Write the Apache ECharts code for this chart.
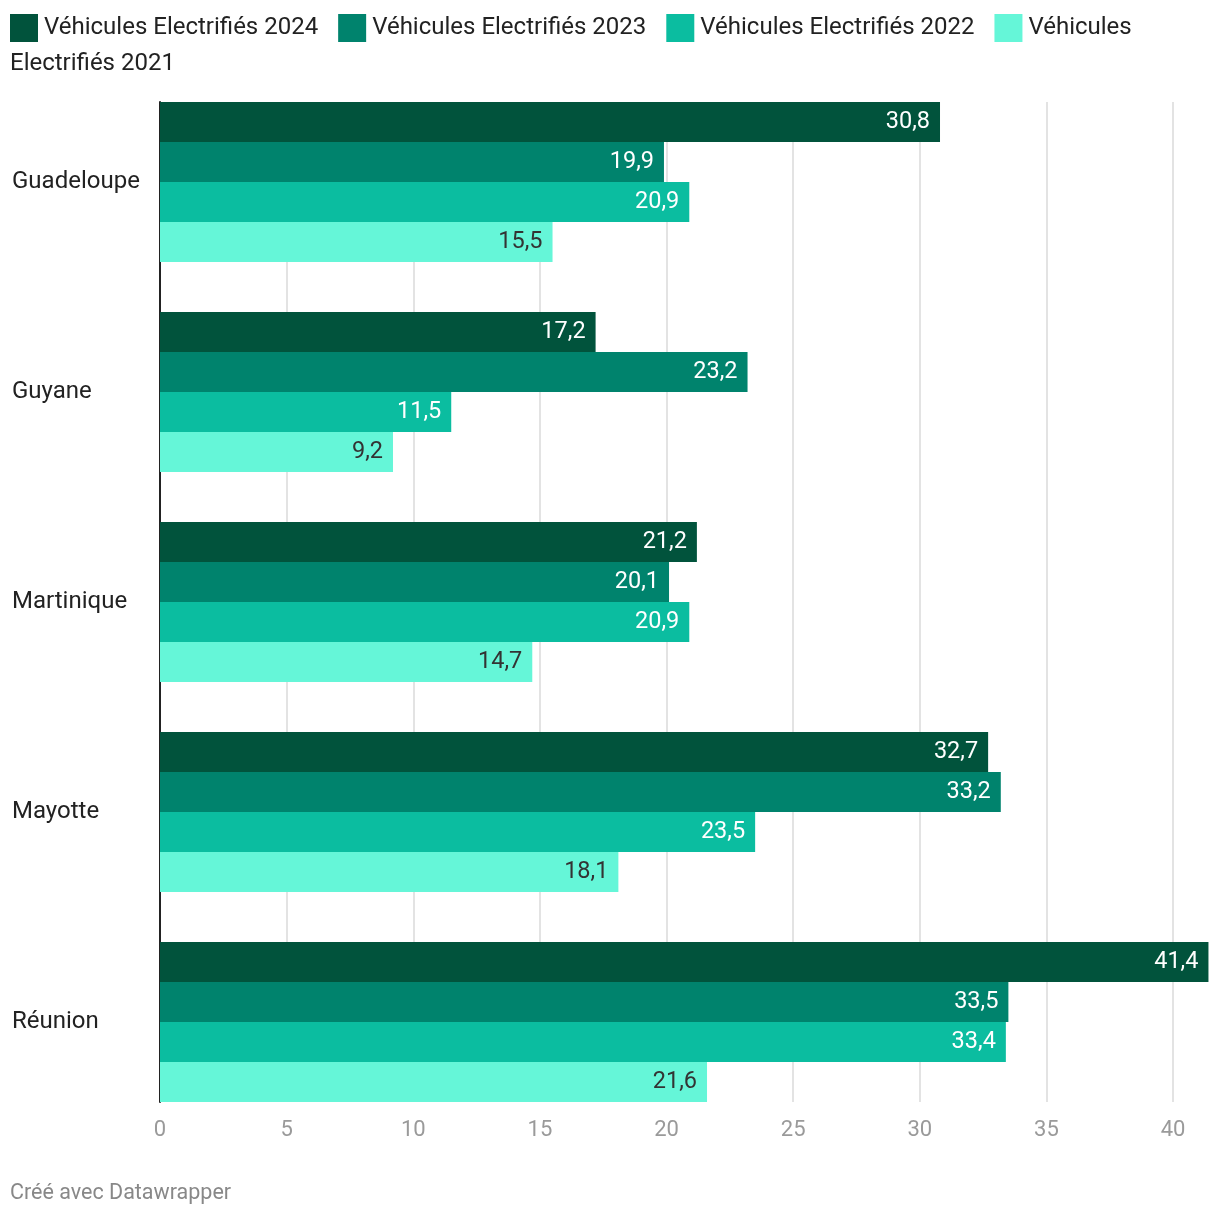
<!DOCTYPE html>
<html>
<head>
<meta charset="utf-8">
<script src="https://cdn.jsdelivr.net/npm/echarts@6/dist/echarts.min.js"></script>
<style>
html,body{margin:0;padding:0;background:#fff;}
#chart{width:1220px;height:1216px;}
</style>
</head>
<body>
<div id="chart"></div>
<script>
const categories = ['Guadeloupe', 'Guyane', 'Martinique', 'Mayotte', 'Réunion'];
const seriesNames = ['Véhicules Electrifiés 2024', 'Véhicules Electrifiés 2023', 'Véhicules Electrifiés 2022', 'Véhicules Electrifiés 2021'];
const values2024 = [30.8, 17.2, 21.2, 32.7, 41.4];
const values2023 = [19.9, 23.2, 20.1, 33.2, 33.5];
const values2022 = [20.9, 11.5, 20.9, 23.5, 33.4];
const values2021 = [15.5, 9.2, 14.7, 18.1, 21.6];
const xTicks = [0, 5, 10, 15, 20, 25, 30, 35, 40];

const colors = ['#01533c', '#00836d', '#0bbda0', '#65f6d8'];
const labelColors = ['#ffffff', '#ffffff', '#ffffff', '#333333'];
const allValues = [values2024, values2023, values2022, values2021];
const FONT = 'Roboto';
const xMax = 41.4;

const chart = echarts.init(document.getElementById('chart'));
const option = {
  animation: false,
  color: colors,
  textStyle: { fontFamily: FONT },
  legend: {
    left: 10, top: 14, padding: 0,
    itemWidth: 28, itemHeight: 28, itemGap: 20,
    icon: 'rect',
    textStyle: { fontSize: 24, color: '#222', fontFamily: FONT, padding: [0, 0, 0, 1] },
    data: seriesNames,
    formatter: function (n) { return n === seriesNames[3] ? 'Véhicules' : n; }
  },
  graphic: [
    { type: 'text', left: 10, top: 52, style: { text: 'Electrifiés 2021', fontSize: 24, fontFamily: FONT, fill: '#222' } },
    { type: 'text', left: 10, top: 1183, style: { text: 'Créé avec Datawrapper', fontSize: 21.5, fontFamily: FONT, fill: '#888' } }
  ],
  grid: [
    { left: 160, right: 1220 - 160 - (1173 - 160) * xMax / 40, top: 77, height: 1050 },
    { left: 160, right: 1220 - 160 - (1173 - 160) * xMax / 40, top: 102, height: 1000 }
  ],
  xAxis: [
    { type: 'value', gridIndex: 0, min: 0, max: xMax, show: false },
    {
      type: 'value', gridIndex: 1, min: 0, max: xMax, interval: 5,
      axisLine: { show: false }, axisTick: { show: false },
      axisLabel: { fontSize: 22, color: '#9a9a9a', fontFamily: FONT, margin: 17, showMaxLabel: false,
        formatter: function (v) { return xTicks.indexOf(v) >= 0 ? String(v) : ''; } },
      splitLine: { show: true, showMaxLine: false, lineStyle: { color: '#e3e3e3', width: 2 } }
    }
  ],
  yAxis: [
    {
      type: 'category', gridIndex: 0, data: categories, inverse: true,
      axisLine: { show: false }, axisTick: { show: false },
      axisLabel: { align: 'left', margin: 148, fontSize: 24, color: '#222', fontFamily: FONT, padding: [5, 0, 0, 0] }
    },
    {
      type: 'category', gridIndex: 1, data: categories, inverse: true,
      axisLine: { show: true, lineStyle: { color: '#222', width: 2 } },
      axisTick: { show: false }, axisLabel: { show: false }, splitLine: { show: false }
    }
  ],
  series: seriesNames.map(function (name, i) {
    return {
      name: name, type: 'bar', xAxisIndex: 0, yAxisIndex: 0,
      data: allValues[i], barWidth: 40, barGap: '0%', z: 3,
      itemStyle: { color: colors[i] },
      label: {
        show: true, position: 'insideRight', distance: 10,
        fontSize: 23.5, fontFamily: FONT, color: labelColors[i],
        formatter: function (p) { return p.value.toFixed(1).replace('.', ','); }
      }
    };
  })
};
chart.setOption(option);
</script>
</body>
</html>
